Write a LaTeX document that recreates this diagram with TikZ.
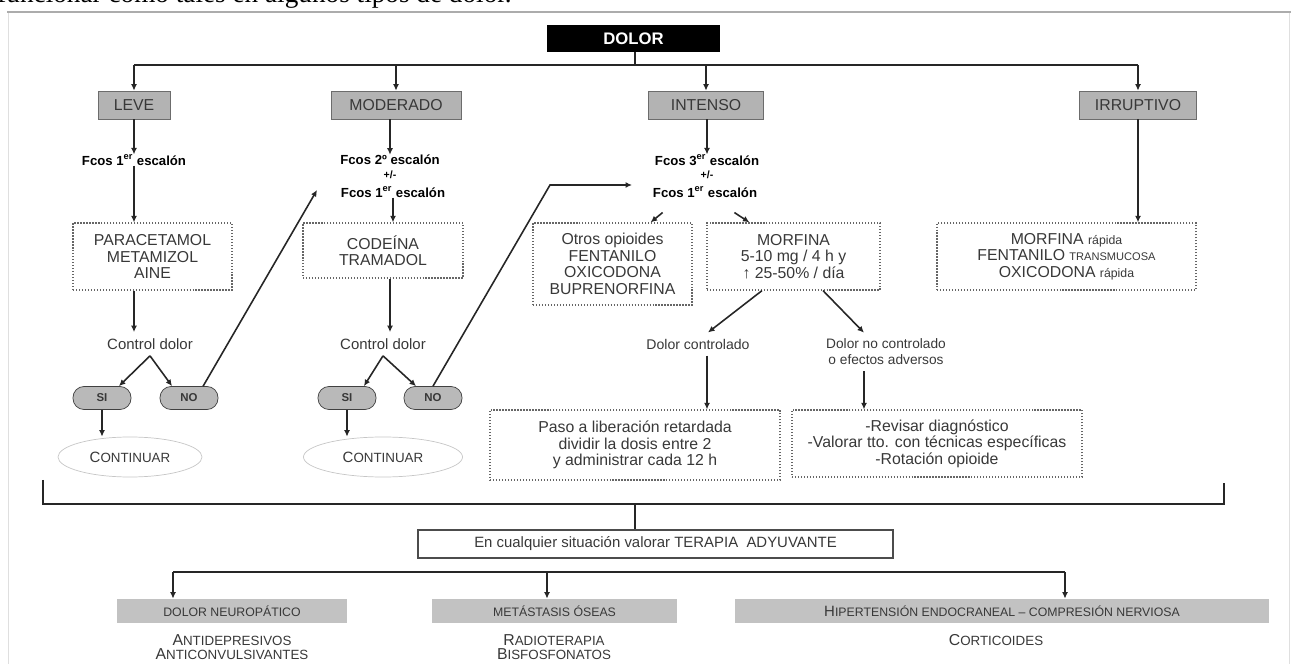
\documentclass[tikz,border=0pt]{standalone}
\usepackage{fontspec}
\setmainfont{Liberation Sans}
\newfontfamily\timesfont{Liberation Serif}
\usetikzlibrary{positioning,shapes.geometric,arrows.meta}

\definecolor{hdrgray}{HTML}{B3B3B3}
\definecolor{bargray}{HTML}{C2C2C2}
\definecolor{inkgray}{HTML}{383838}
% fake small caps: first letter full size, rest smaller capitals
\newcommand{\sck}[2]{#1{\fontsize{7.6}{8}\selectfont #2}}

\tikzset{
  every node/.style={inner sep=0pt, text=inkgray},
  hdr/.style={draw=gray!85!black, fill=hdrgray, minimum height=5.6mm, font=\fontsize{9}{10}\selectfont},
  fcos/.style={font=\bfseries\fontsize{7.5}{9}\selectfont, text=black},
  drugbox/.style={draw=gray!80!black, densely dotted, line width=0.7pt, align=center, font=\fontsize{9}{9.4}\selectfont},
  yesno/.style={draw=black!75, fill=gray!55, rounded corners=2.2mm, minimum width=11.6mm, minimum height=4.6mm, font=\bfseries\fontsize{6.5}{7}\selectfont},
  contin/.style={ellipse, draw=gray!45, minimum height=8mm, font=\fontsize{8.5}{9}\selectfont},
  lbl/.style={inner sep=1.2mm, align=center, font=\fontsize{8.5}{9.2}\selectfont},
  bar/.style={fill=bargray, minimum height=4.8mm, font=\fontsize{7}{8}\selectfont},
  wire/.style={line width=0.9pt, draw=black!85},
  link/.style={wire, -{Latex[length=1.3mm,width=1.2mm]}},
}

\begin{document}
\begin{tikzpicture}[x=0.2mm,y=-0.2mm]
\useasboundingbox (0,0) rectangle (1291,664);
\clip (0,0) rectangle (1291,664);

% page around the figure
\node[anchor=base west, font=\timesfont\fontsize{15.5}{18}\selectfont, text=black] (pagetext) at (-3,3) {funcionar como tales en algunos tipos de dolor.};
\draw[gray!65, line width=1.6pt] (7,12) -- (1291,12);
\draw[gray!25, line width=0.5pt] (8,13) -- (8,664) (1289,13) -- (1289,664);

% top level
\node[fill=black, minimum width=34.6mm, minimum height=5.4mm, font=\bfseries\fontsize{9.5}{10}\selectfont, text=white] (dolor) at (633.5,38.5) {DOLOR};
\coordinate (bus) at (635,65);
\node[hdr, minimum width=14.4mm] (leve) at (134,105) {LEVE};
\node[hdr, minimum width=26mm] (moder) at (396,105) {MODERADO};
\node[hdr, minimum width=23mm] (inten) at (706,105) {INTENSO};
\node[hdr, minimum width=23.4mm] (irrup) at (1138,105) {IRRUPTIVO};
\draw[wire] (dolor.south -| bus) -- (bus);
\draw[wire] (leve.north |- bus) -- (irrup.north |- bus);
\foreach \n in {leve,moder,inten,irrup}
  \draw[link] (\n.north |- bus) -- (\n);

% leve
\node[fcos] (f1) at (134,160) {Fcos 1\textsuperscript{er} escalón};
\node[drugbox, minimum width=31.8mm, minimum height=13.4mm] (box1) at (152.5,256.5) {PARACETAMOL\\METAMIZOL\\AINE};
\node[lbl] (ctrl1) at (150,344) {Control dolor};
\node[yesno] (si1) at (102,398) {SI};
\node[yesno] (no1) at (189,398) {NO};
\node[contin, minimum width=28.8mm] (cont1) at (130,457) {\sck{C}{ONTINUAR}};
\draw[link] (leve) -- (f1);
\draw[link] (f1) -- (f1 |- box1.north);
\draw[link] (box1.south -| f1) -- (ctrl1.north -| f1);
\draw[link] (ctrl1.south) -- (si1.35);
\draw[link] (ctrl1.south) -- (no1.145);
\draw[link] (si1.south) -- (si1.south |- cont1.north);

% moderado
\node[fcos] (f2a) at (390,160) {Fcos 2º escalón};
\node[fcos, font=\bfseries\fontsize{6}{7}\selectfont] (pm2) at (390,175) {+/-};
\node[fcos] (f2b) at (393,192) {Fcos 1\textsuperscript{er} escalón};
\coordinate (f2in) at (317,190);
\node[drugbox, minimum width=32mm, minimum height=11mm] (box2) at (383,250.5) {CODEÍNA\\TRAMADOL};
\node[lbl] (ctrl2) at (383,344) {Control dolor};
\node[yesno] (si2) at (347,398) {SI};
\node[yesno] (no2) at (433,398) {NO};
\node[contin, minimum width=31.8mm] (cont2) at (383,457) {\sck{C}{ONTINUAR}};
\draw[link] (moder.south -| f2a) -- (f2a);
\draw[link] (no1.40) -- (f2in);
\draw[link] (f2b) -- (f2b |- box2.north);
\draw[link] (box2.south -| f2a) -- (ctrl2.north -| f2a);
\draw[link] (ctrl2.south) -- (si2.35);
\draw[link] (ctrl2.south) -- (no2.145);
\draw[link] (si2.south) -- (si2.south |- cont2.north);

% intenso
\node[fcos] (f3a) at (707,160) {Fcos 3\textsuperscript{er} escalón};
\node[fcos, font=\bfseries\fontsize{6}{7}\selectfont] (pm3) at (707,175) {+/-};
\node[fcos] (f3b) at (705,192) {Fcos 1\textsuperscript{er} escalón};
\coordinate (bend3) at (550,185);
\coordinate (f3in) at (632,185);
\node[drugbox, minimum width=31.8mm, minimum height=16.4mm] (otros) at (612.5,264) {Otros opioides\\FENTANILO\\OXICODONA\\BUPRENORFINA};
\node[drugbox, minimum width=34.6mm, minimum height=13.4mm] (morf) at (793.5,256.5) {MORFINA\\5-10 mg / 4 h y\\↑ 25-50\% / día};
\node[lbl, font=\fontsize{8}{9}\selectfont] (ctl) at (698,344) {Dolor controlado};
\node[lbl, font=\fontsize{7.8}{9}\selectfont] (nctl) at (886,352) {Dolor no controlado\\o efectos adversos};
\node[drugbox, minimum width=58mm, minimum height=14mm] (paso) at (635,445) {Paso a liberación retardada\\dividir la dosis entre 2\\y administrar cada 12 h};
\node[drugbox, minimum width=58mm, minimum height=13.4mm] (revis) at (937,443.5) {-Revisar diagnóstico\\-Valorar tto. con técnicas específicas\\-Rotación opioide};
\draw[link] (no2.north) -- (bend3) -- (f3in);
\draw[link] (inten.south -| f3a) -- (f3a);
\draw[link] ([shift={(2mm,-3mm)}]f3b.south west) -- ([xshift=-8.4mm]otros.north east);
\draw[link] ([shift={(-4.6mm,-3mm)}]f3b.south east) -- ([xshift=8.6mm]morf.north west);
\draw[link] ([xshift=-6.3mm]morf.south) -- ([xshift=2mm]ctl.north);
\draw[link] ([xshift=5.9mm]morf.south) -- ([xshift=-4.4mm]nctl.north);
\draw[link] ([xshift=1.8mm]ctl.south) -- ([xshift=1.8mm]ctl.south |- paso.north);
\draw[link] ([xshift=-4.4mm]nctl.south) -- ([xshift=-4.4mm]nctl.south |- revis.north);

% irruptivo
\node[drugbox, minimum width=51.8mm, minimum height=13.4mm] (mrap) at (1066.5,256.5) {MORFINA {\fontsize{7}{8}\selectfont rápida}\\FENTANILO {\fontsize{6.3}{8}\selectfont TRANSMUCOSA}\\OXICODONA {\fontsize{7}{8}\selectfont rápida}};
\draw[link] (irrup) -- (irrup |- mrap.north);

% terapia adyuvante
\coordinate (brl) at (43,480);
\coordinate (brr) at (1224,483);
\coordinate (brace) at (635,504);
\node[draw=gray!60!black, line width=1pt, minimum width=95mm, minimum height=5.6mm, font=\fontsize{8.5}{9}\selectfont] (adyuv) at (655.5,544) {En cualquier situación valorar TERAPIA\ \ ADYUVANTE};
\draw[wire] (brl) -- (brl |- brace) -- (brr |- brace) -- (brr);
\draw[wire] (brace) -- (brace |- adyuv.north);

\coordinate (b1) at (173,572);
\coordinate (b2) at (547,572);
\coordinate (b3) at (1065,572);
\node[bar, minimum width=46mm] (neuro) at (232,611) {DOLOR NEUROPÁTICO};
\node[bar, minimum width=49mm] (meta) at (554.5,611) {METÁSTASIS ÓSEAS};
\node[bar, minimum width=106.8mm] (hiper) at (1002,611) {{\fontsize{8.5}{8}\selectfont H}IPERTENSIÓN ENDOCRANEAL – COMPRESIÓN NERVIOSA};
\draw[wire] (b1) -- (b3);
\draw[link] (b1) -- (b1 |- neuro.north);
\draw[link] (b2) -- (b2 |- meta.north);
\draw[link] (b3) -- (b3 |- hiper.north);

\node[align=center, font=\fontsize{9}{8}\selectfont] (neurotx) at (232,647) {\sck{A}{NTIDEPRESIVOS}\\\sck{A}{NTICONVULSIVANTES}};
\node[align=center, font=\fontsize{9}{8}\selectfont] (metatx) at (554,647) {\sck{R}{ADIOTERAPIA}\\\sck{B}{ISFOSFONATOS}};
\node[font=\fontsize{9}{8}\selectfont] (hipertx) at (996,640) {\sck{C}{ORTICOIDES}};
\end{tikzpicture}
\end{document}
